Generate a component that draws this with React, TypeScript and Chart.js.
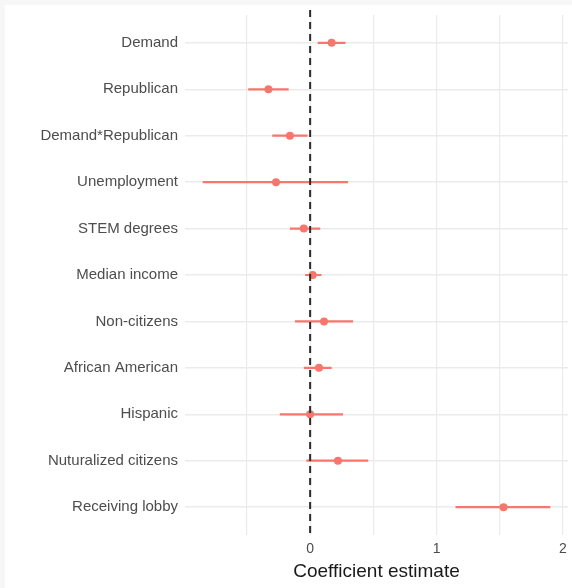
import React, { useEffect, useRef } from "react";
import { Chart, registerables } from "chart.js";

Chart.register(...registerables);

const terms = [
  "Demand",
  "Republican",
  "Demand*Republican",
  "Unemployment",
  "STEM degrees",
  "Median income",
  "Non-citizens",
  "African American",
  "Hispanic",
  "Nuturalized citizens",
  "Receiving lobby",
];
const estimates = [0.17, -0.33, -0.16, -0.27, -0.05, 0.02, 0.11, 0.07, 0.0, 0.22, 1.53];
const lower = [0.06, -0.49, -0.3, -0.85, -0.16, -0.04, -0.12, -0.05, -0.24, -0.03, 1.15];
const upper = [0.28, -0.17, -0.02, 0.3, 0.08, 0.09, 0.34, 0.17, 0.26, 0.46, 1.9];
const xTickValues = [-0.5, 0, 0.5, 1, 1.5, 2];
const xLabelValues = [0, 1, 2];

const COLOR = "#F8766D";
const FONT = "'Liberation Sans', Arial, sans-serif";

const zeroLinePlugin = {
  id: "zeroLine",
  afterDatasetsDraw(chart: any) {
    const { ctx, chartArea, scales } = chart;
    const x = scales.x.getPixelForValue(0);
    ctx.save();
    ctx.strokeStyle = "#2b2b2b";
    ctx.lineWidth = 2;
    ctx.setLineDash([7, 5]);
    ctx.beginPath();
    ctx.moveTo(x, chartArea.top - 5);
    ctx.lineTo(x, chartArea.bottom);
    ctx.stroke();
    ctx.restore();
  },
};

export default function App() {
  const ref = useRef<HTMLCanvasElement>(null);
  useEffect(() => {
    document.body.style.margin = "0";
    const errData: any[] = [];
    terms.forEach((_, i) => {
      errData.push({ x: lower[i], y: i });
      errData.push({ x: upper[i], y: i });
      errData.push({ x: null, y: i });
    });
    const chart = new Chart(ref.current as HTMLCanvasElement, {
      type: "scatter",
      data: {
        datasets: [
          {
            type: "line",
            data: errData,
            borderColor: COLOR,
            borderWidth: 2.2,
            pointRadius: 0,
            spanGaps: false,
            showLine: true,
          } as any,
          {
            data: estimates.map((v, i) => ({ x: v, y: i })),
            backgroundColor: COLOR,
            borderColor: COLOR,
            pointRadius: 4,
            borderWidth: 0,
          },
        ],
      },
      options: {
        animation: false,
        responsive: false,
        layout: { padding: { top: 10, right: 4, left: 0, bottom: 0 } },
        plugins: { legend: { display: false }, tooltip: { enabled: false } },
        scales: {
          x: {
            type: "linear",
            min: -0.99,
            max: 2.04,
            afterBuildTicks(scale: any) {
              scale.ticks = xTickValues.map((v) => ({ value: v }));
            },
            afterFit(scale: any) {
              scale.height = 53;
              scale.paddingLeft = 0;
              scale.paddingRight = 0;
            },
            ticks: {
              padding: 6,
              color: "#4d4d4d",
              font: { family: FONT, size: 14 },
              callback: (v: any) => (xLabelValues.includes(Number(v)) ? String(v) : ""),
              maxRotation: 0,
              autoSkip: false,
            },
            grid: { color: "#ebebeb", lineWidth: 1.2, drawTicks: false },
            border: { display: false },
            title: {
              display: true,
              text: "Coefficient estimate",
              color: "#1a1a1a",
              font: { family: FONT, size: 19 },
              padding: { top: 0, bottom: 5 },
            },
          },
          y: {
            type: "linear",
            reverse: true,
            min: -0.6,
            max: terms.length - 1 + 0.6,
            afterBuildTicks(scale: any) {
              scale.ticks = terms.map((_, i) => ({ value: i }));
            },
            afterFit(scale: any) {
              scale.width = 180;
              scale.paddingTop = 0;
              scale.paddingBottom = 0;
            },
            ticks: {
              padding: 7,
              color: "#4d4d4d",
              font: { family: FONT, size: 15 },
              callback: (v: any) => terms[Number(v)] ?? "",
              autoSkip: false,
            },
            grid: { color: "#ebebeb", lineWidth: 1.5, drawTicks: false },
            border: { display: false },
          },
        },
      },
      plugins: [zeroLinePlugin],
    });
    return () => chart.destroy();
  }, []);
  return (
    <div
      style={{
        width: 572,
        height: 588,
        background: "#f7f7f7",
        boxSizing: "border-box",
        paddingTop: 5,
        paddingLeft: 5,
      }}
    >
      <canvas ref={ref} width={567} height={583} style={{ display: "block", background: "#fff" }} />
    </div>
  );
}
